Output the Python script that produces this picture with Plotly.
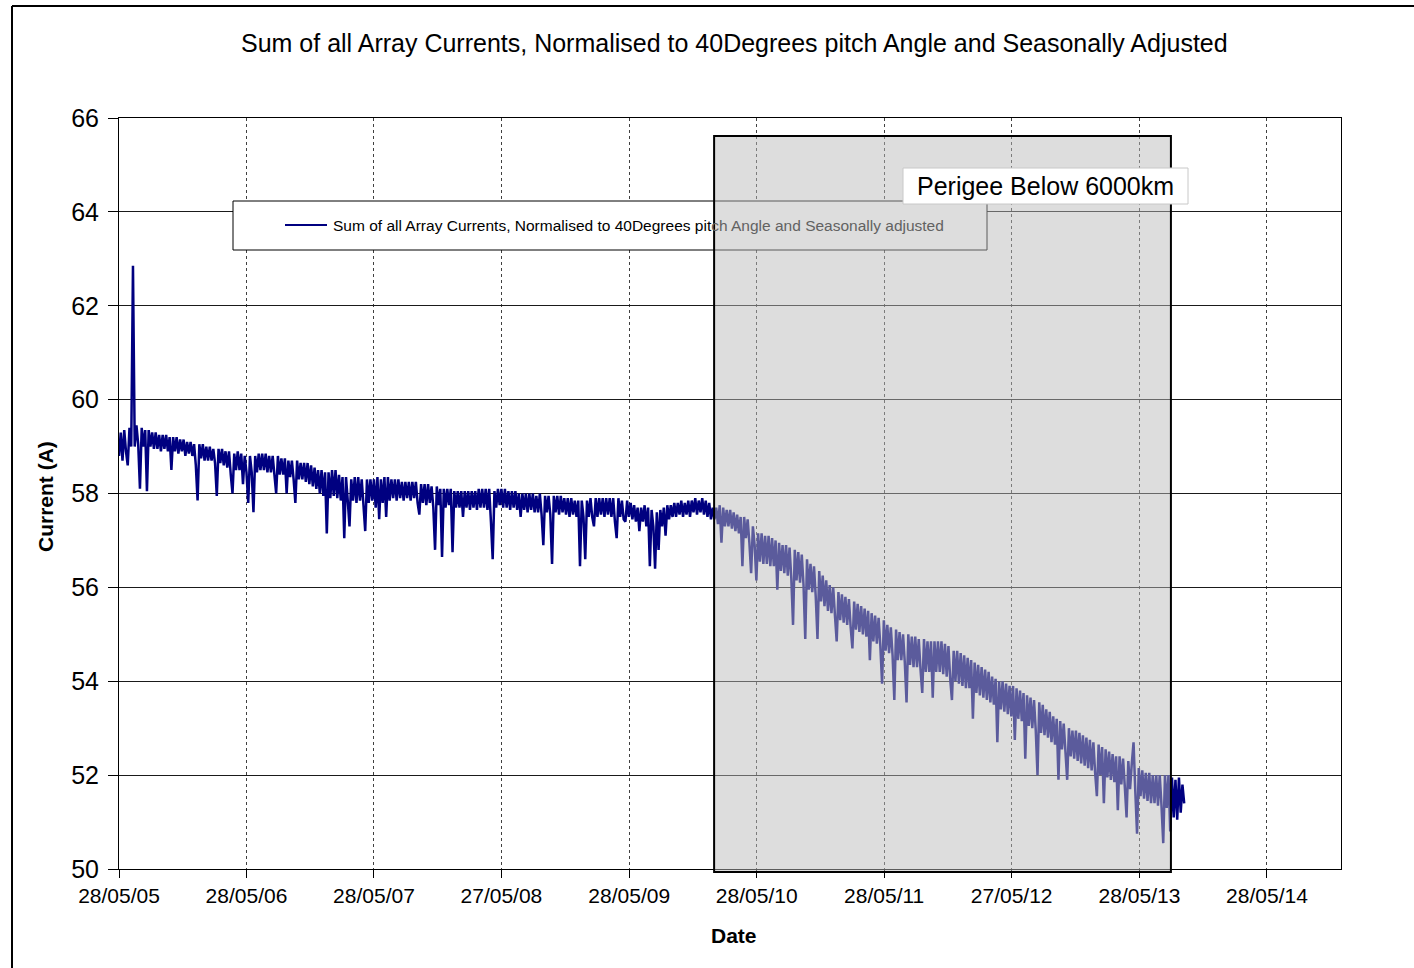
"""
Sum of all array currents, normalised to 40 degrees pitch angle and
seasonally adjusted - Excel style line chart redrawn with Plotly.
"""

import pandas as pd
import plotly.graph_objects as go

# ---------------------------------------------------------------------------
# Data (one sample every 5 days)
# ---------------------------------------------------------------------------
start_date = "2005-05-28"
sample_step = "5D"

current_y1 = [58.8, 59.3, 58.7, 59.35, 58.9, 58.6, 59.4, 59.0, 62.85, 59.0,
              59.45, 59.05, 58.1, 59.4, 59.0, 59.35, 58.05, 59.35, 59.0, 59.3,
              58.95, 59.3, 58.95, 59.25, 58.9, 59.25, 58.95, 59.25, 58.9, 59.2,
              58.5, 59.2, 58.9, 59.2, 58.85, 59.15, 58.9, 59.15, 58.8, 59.1,
              58.85, 59.1, 58.8, 59.05, 58.6, 57.85, 59.05, 58.75, 59.05, 58.7,
              59.0, 58.7, 59.0, 58.7, 58.95, 58.65, 57.95, 58.95, 58.65, 58.95,
              58.6, 58.9, 58.55, 58.9, 58.4, 58.0, 58.85, 58.5, 58.9, 58.5,
              58.85, 58.2, 58.8]
current_y2 = [58.45, 57.8, 58.8, 58.45, 57.6, 58.8, 58.45, 58.85, 58.5, 58.85,
              58.5, 58.85, 58.45, 58.8, 58.45, 58.8, 58.4, 58.0, 58.8, 58.4,
              58.75, 58.4, 58.75, 58.0, 58.7, 58.35, 58.7, 58.3, 57.8, 58.7,
              58.3, 58.65, 58.3, 58.65, 58.25, 58.65, 58.2, 58.6, 58.15, 58.55,
              58.1, 58.5, 58.0, 58.5, 57.95, 58.45, 57.15, 58.45, 57.9, 58.5,
              57.95, 58.5, 57.9, 58.4, 57.85, 58.35, 57.05, 58.35, 57.85, 57.3,
              58.3, 57.85, 58.35, 57.8, 58.35, 57.85, 58.3, 57.75, 57.2, 58.3,
              57.8, 58.3, 57.85, 58.3]
current_y3 = [57.7, 58.35, 57.45, 58.3, 57.8, 58.35, 57.5, 58.35, 57.85, 58.3,
              57.9, 58.3, 57.85, 58.3, 57.9, 58.25, 57.85, 58.25, 57.9, 58.25,
              57.85, 58.25, 57.9, 58.25, 57.8, 57.55, 58.2, 57.8, 58.2, 57.75,
              58.2, 57.8, 58.15, 57.7, 56.8, 58.15, 57.75, 58.1, 56.65, 58.1,
              57.7, 58.1, 57.75, 58.1, 56.75, 58.05, 57.7, 58.05, 57.7, 58.05,
              57.5, 58.05, 57.7, 58.05, 57.65, 58.05, 57.7, 58.05, 57.65, 58.1,
              57.7, 58.1, 57.7, 58.1, 57.65, 58.1, 57.4, 56.6, 58.05, 57.7,
              58.1, 57.75]
current_y4 = [58.1, 57.7, 58.1, 57.7, 58.05, 57.65, 58.05, 57.7, 58.05, 57.65,
              58.0, 57.5, 58.0, 57.65, 58.0, 57.6, 58.0, 57.65, 58.0, 57.6,
              57.95, 57.6, 58.0, 57.55, 56.9, 57.95, 57.6, 57.95, 57.55, 56.5,
              57.95, 57.6, 57.95, 57.55, 57.95, 57.6, 57.9, 57.55, 57.9, 57.5,
              57.9, 57.55, 57.85, 57.5, 57.85, 56.45, 57.85, 57.5, 56.6, 57.85,
              57.5, 57.9, 57.5, 57.3, 57.9, 57.5, 57.9, 57.55, 57.9, 57.5,
              57.9, 57.55, 57.9, 57.5, 57.9, 57.4, 57.05, 57.9, 57.5, 57.85,
              57.45, 57.4, 57.85, 57.5]
current_y5 = [57.8, 57.45, 57.75, 57.4, 57.7, 57.2, 57.7, 57.4, 57.75, 57.3,
              57.7, 56.45, 57.65, 57.3, 56.4, 57.6, 56.8, 57.65, 57.3, 57.7,
              57.1, 57.75, 57.45, 57.75, 57.5, 57.8, 57.5, 57.8, 57.55, 57.85,
              57.5, 57.8, 57.55, 57.85, 57.5, 57.85, 57.6, 57.9, 57.55, 57.85,
              57.6, 57.9, 57.55, 57.85, 57.5, 57.8, 57.45, 57.7, 57.45, 57.7,
              57.35, 57.75, 56.95, 57.7, 57.3, 57.65, 57.3, 57.65, 57.25, 57.6,
              57.2, 57.55, 57.15, 57.5, 56.45, 57.5, 57.05, 57.45, 56.95, 56.3,
              57.3, 56.9]
current_y6 = [56.15, 57.15, 56.55, 57.15, 56.5, 57.1, 56.5, 57.1, 56.45, 57.05,
              56.45, 57.0, 55.95, 56.95, 56.35, 56.9, 56.3, 56.9, 56.25, 56.85,
              56.2, 55.2, 56.8, 56.15, 56.75, 56.1, 56.7, 56.05, 54.9, 56.6,
              55.95, 56.5, 55.9, 56.45, 55.8, 54.9, 56.35, 55.7, 56.25, 55.6,
              56.15, 55.5, 56.05, 55.45, 56.0, 55.4, 54.85, 55.9, 55.3, 55.85,
              55.25, 55.8, 55.2, 55.75, 55.15, 54.7, 55.7, 55.1, 55.65, 55.05,
              55.6, 55.0, 55.55, 54.95, 55.5, 54.45, 55.45, 54.85, 55.4, 54.8,
              55.35, 54.75, 53.95, 55.3]
current_y7 = [54.65, 55.2, 54.6, 55.15, 54.55, 53.6, 55.1, 54.45, 55.05, 54.45,
              55.0, 54.4, 53.55, 55.0, 54.35, 54.95, 54.3, 54.95, 54.3, 54.9,
              54.25, 53.75, 54.9, 54.2, 54.85, 54.2, 54.85, 53.65, 54.85, 54.2,
              54.85, 54.2, 54.85, 54.15, 54.8, 54.1, 54.75, 54.05, 53.6, 54.65,
              54.0, 54.65, 53.95, 54.6, 53.9, 54.55, 53.85, 54.5, 53.85, 54.45,
              53.2, 54.4, 53.75, 54.35, 53.7, 54.3, 53.65, 54.25, 53.6, 54.2,
              53.55, 54.1, 53.5, 54.05, 52.7, 54.0, 53.4, 54.0, 53.35, 53.95,
              53.3, 53.9]
current_y8 = [53.25, 53.9, 52.75, 53.85, 53.2, 53.8, 53.15, 53.75, 52.35, 53.7,
              53.05, 53.65, 53.0, 53.6, 52.95, 52.0, 53.55, 52.9, 53.5, 52.85,
              53.4, 52.8, 53.35, 52.7, 53.25, 52.65, 53.2, 51.9, 53.15, 52.55,
              53.1, 52.5, 51.9, 53.0, 52.4, 52.95, 52.35, 52.95, 52.3, 52.9,
              52.25, 52.85, 52.2, 52.8, 52.15, 52.75, 52.1, 52.7, 52.05, 51.55,
              52.65, 52.0, 52.6, 51.4, 52.55, 51.95, 52.5, 51.9, 52.45, 51.85,
              52.4, 51.25, 52.4, 51.8, 52.35, 51.75, 51.1, 52.3, 51.7, 52.25,
              52.7, 51.65, 50.75, 52.15]
current_y9 = [51.55, 52.1, 51.5, 52.05, 51.45, 52.05, 51.4, 52.0, 51.4, 52.0,
              51.35, 52.0, 51.35, 50.55, 52.0, 51.3, 52.0, 50.8, 51.95, 51.1,
              51.9, 51.05, 51.95, 51.2, 51.8, 51.4]

currents = (current_y1 + current_y2 + current_y3 + current_y4 + current_y5
            + current_y6 + current_y7 + current_y8 + current_y9)
dates = pd.date_range(start_date, periods=len(currents), freq=sample_step)

tick_labels = ["28/05/05", "28/05/06", "28/05/07", "27/05/08", "28/05/09",
               "28/05/10", "28/05/11", "27/05/12", "28/05/13", "28/05/14"]
tick_dates = pd.to_datetime(tick_labels, format="%d/%m/%y")

perigee_start = "2010-01-26"
perigee_end = "2013-08-26"

title_text = ("Sum of all Array Currents, Normalised to 40Degrees pitch Angle "
              "and Seasonally Adjusted")
series_name = ("Sum of all Array Currents, Normalised to 40Degrees pitch Angle "
               "and Seasonally adjusted")

# ---------------------------------------------------------------------------
# Layout helpers (pixel -> paper coordinates of the plot area)
# ---------------------------------------------------------------------------
W, H = 1414, 968
L, R, T, B = 119, 1341, 118, 869
FONT = "Liberation Sans, Arial, sans-serif"
NAVY = "#000080"


def px(x):
    return (x - L) / (R - L)


def py(y):
    return (B - y) / (B - T)


fig = go.Figure()

fig.add_trace(go.Scatter(
    x=dates, y=currents, mode="lines", name=series_name,
    line=dict(color=NAVY, width=2.5, simplify=False), showlegend=False,
))

shapes = [
    # outer chart frame (left and top edges visible)
    dict(type="line", xref="paper", yref="paper", x0=px(12), x1=px(12),
         y0=py(6), y1=py(H + 5), line=dict(color="black", width=2), layer="above"),
    dict(type="line", xref="paper", yref="paper", x0=px(12), x1=px(W + 5),
         y0=py(6), y1=py(6), line=dict(color="black", width=2), layer="above"),
    # legend box (sits under the shaded region)
    dict(type="rect", xref="paper", yref="paper", x0=px(233), x1=px(987),
         y0=py(250), y1=py(201), fillcolor="white",
         line=dict(color="black", width=1), layer="above"),
    dict(type="line", xref="paper", yref="paper", x0=px(285), x1=px(327),
         y0=py(225), y1=py(225), line=dict(color=NAVY, width=2), layer="above"),
    # perigee below 6000 km shaded period
    dict(type="rect", xref="x", yref="paper", x0=perigee_start, x1=perigee_end,
         y0=py(872), y1=py(136), fillcolor="rgba(186,186,186,0.49)",
         line=dict(color="black", width=2), layer="above"),
    # label box
    dict(type="rect", xref="paper", yref="paper", x0=px(903), x1=px(1188),
         y0=py(204), y1=py(168), fillcolor="white",
         line=dict(color="#c8c8c8", width=1), layer="above"),
]

split = series_name.index("ch Angle")
legend_text = (series_name[:split]
               + "<span style='color:#626262'>" + series_name[split:] + "</span>")

annotations = [
    dict(text=title_text, xref="paper", yref="paper", x=px(734), y=py(43),
         xanchor="center", yanchor="middle", showarrow=False,
         font=dict(family=FONT, size=25, color="black")),
    dict(text=legend_text, xref="paper", yref="paper", x=px(331), y=py(225),
         xanchor="left", yanchor="middle", showarrow=False,
         font=dict(family=FONT, size=15.5, color="black")),
    dict(text="Perigee Below 6000km", xref="paper", yref="paper",
         x=px(1045.5), y=py(186), xanchor="center", yanchor="middle",
         showarrow=False, font=dict(family=FONT, size=25, color="black")),
    dict(text="<b>Current (A)</b>", xref="paper", yref="paper",
         x=px(45), y=py(497), xanchor="center", yanchor="middle",
         textangle=-90, showarrow=False,
         font=dict(family=FONT, size=21, color="black")),
    dict(text="<b>Date</b>", xref="paper", yref="paper",
         x=px(734), y=py(935), xanchor="center", yanchor="middle",
         showarrow=False, font=dict(family=FONT, size=21, color="black")),
]

fig.update_layout(
    width=W, height=H, autosize=False,
    margin=dict(l=L, r=W - R, t=T, b=H - B, pad=0),
    paper_bgcolor="white", plot_bgcolor="white",
    font=dict(family=FONT, color="black"),
    showlegend=False,
    shapes=shapes,
    annotations=annotations,
)

fig.update_xaxes(
    type="date", range=["2005-05-28", "2014-12-26"],
    tickvals=tick_dates, ticktext=tick_labels,
    tickfont=dict(family=FONT, size=21, color="black"),
    ticks="outside", ticklen=8, tickcolor="black",
    showgrid=True, gridcolor="#404040", gridwidth=1, griddash="dot",
    showline=True, linecolor="black", linewidth=1, mirror=True,
    zeroline=False,
)
fig.update_yaxes(
    range=[50, 66], dtick=2, tick0=50,
    tickfont=dict(family=FONT, size=25, color="black"),
    ticks="outside", ticklen=10, tickcolor="black", ticklabelstandoff=4,
    showgrid=True, gridcolor="#1a1a1a", gridwidth=1,
    showline=True, linecolor="black", linewidth=1, mirror=True,
    zeroline=False,
)

# the page body has a default 8px margin; drop it so the figure sits at 0,0
fig.write_html("out.html", config={"displayModeBar": False},
               post_script="document.body.style.margin = '0px';")
